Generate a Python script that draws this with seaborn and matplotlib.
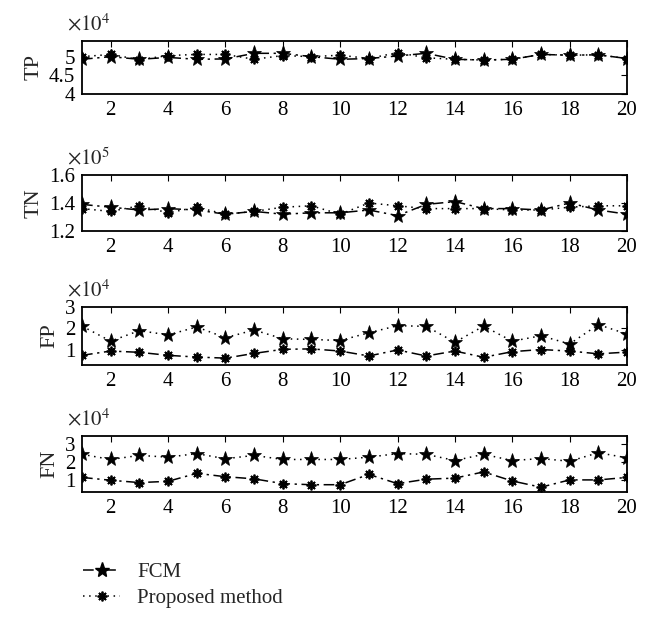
import numpy as np
import matplotlib
matplotlib.use("Agg")
import matplotlib.pyplot as plt
import seaborn as sns

sns.set_style("white")
plt.rcParams['font.family'] = ['Liberation Serif', 'DejaVu Sans']
plt.rcParams['mathtext.fontset'] = 'stix'

runs = np.arange(1, 21)

# values in units of the panel's multiplier (x10^4 or x10^5)
tp_fcm = [4.93, 5.00, 4.93, 4.98, 4.93, 4.94, 5.09, 5.09, 5.00, 4.93,
          4.95, 5.02, 5.09, 4.93, 4.91, 4.93, 5.06, 5.04, 5.05, 4.95]
tp_prop = [5.00, 5.06, 4.92, 5.03, 5.06, 5.06, 4.93, 5.03, 5.00, 5.04,
           4.95, 5.11, 4.97, 4.93, 4.91, 4.93, 5.06, 5.04, 5.05, 4.95]

tn_fcm = [1.39, 1.37, 1.35, 1.36, 1.35, 1.32, 1.34, 1.32, 1.33, 1.33,
          1.35, 1.31, 1.39, 1.41, 1.36, 1.36, 1.35, 1.40, 1.35, 1.32]
tn_prop = [1.36, 1.34, 1.38, 1.33, 1.37, 1.32, 1.34, 1.37, 1.38, 1.32,
           1.40, 1.38, 1.36, 1.36, 1.36, 1.35, 1.35, 1.37, 1.38, 1.38]

fp_star = [2.11, 1.41, 1.90, 1.70, 2.07, 1.57, 1.93, 1.52, 1.49, 1.44,
           1.80, 2.13, 2.10, 1.36, 2.11, 1.41, 1.66, 1.28, 2.18, 1.74]
fp_ast = [0.75, 0.95, 0.89, 0.75, 0.67, 0.62, 0.84, 1.03, 1.05, 0.95,
          0.72, 1.00, 0.72, 0.95, 0.66, 0.92, 1.02, 0.95, 0.82, 0.90]

fn_star = [2.42, 2.13, 2.36, 2.26, 2.46, 2.17, 2.36, 2.13, 2.13, 2.13,
           2.26, 2.46, 2.42, 2.07, 2.42, 2.07, 2.18, 2.03, 2.51, 2.22]
fn_ast = [1.12, 0.96, 0.83, 0.90, 1.35, 1.16, 1.04, 0.77, 0.71, 0.71,
          1.29, 0.77, 1.02, 1.08, 1.43, 0.92, 0.57, 0.98, 0.98, 1.12]

panel_names = ['TP', 'TN', 'FP', 'FN']
exponents = [4, 5, 4, 4]
ylims = [(4, 5.42), (1.2, 1.6), (0.3, 3), (0.3, 3.45)]
yticks = [[4, 4.5, 5], [1.2, 1.4, 1.6], [1, 2, 3], [1, 2, 3]]
yticklabels = [['4', '4.5', '5'], ['1.2', '1.4', '1.6'], ['1', '2', '3'], ['1', '2', '3']]
star_data = [tp_fcm, tn_fcm, fp_star, fn_star]
ast_data = [tp_prop, tn_prop, fp_ast, fn_ast]
# line styles as they appear in each panel (star series, asterisk series)
star_ls = ['-.', '-.', ':', ':']
ast_ls = [':', ':', '-.', '-.']

# axes boxes in pixels: left, top, right, bottom
boxes = [(82, 41, 627, 94), (82, 175, 627, 231), (82, 307, 627, 365), (82, 436, 627, 492)]

W, H = 650, 620
fig = plt.figure(figsize=(W / 100, H / 100), dpi=100)

DASHDOT = (0, (7, 3, 1.5, 3))
DOT = (0, (1, 3))
ASTER = (8, 2, 0)


def to_ls(s):
    return DASHDOT if s == '-.' else DOT


for i, name in enumerate(panel_names):
    l, t, r, b = boxes[i]
    ax = fig.add_axes([l / W, 1 - b / H, (r - l) / W, (b - t) / H])
    sns.lineplot(x=runs, y=star_data[i], ax=ax, color='k', marker='*',
                 markersize=11, markeredgewidth=0.5, markeredgecolor='k',
                 markerfacecolor='k', linewidth=1.1,
                 linestyle=to_ls(star_ls[i]), label='FCM', legend=False)
    sns.lineplot(x=runs, y=ast_data[i], ax=ax, color='k', marker=ASTER,
                 markersize=7, markeredgewidth=1.3, markeredgecolor='k',
                 linewidth=1.1,
                 linestyle=to_ls(ast_ls[i]), label='Proposed method', legend=False)
    ax.set_xlim(1, 20)
    ax.set_ylim(*ylims[i])
    ax.set_xticks(range(2, 21, 2))
    ax.set_yticks(yticks[i])
    ax.set_yticklabels(yticklabels[i])
    ax.tick_params(direction='in', top=True, right=True, length=4, width=0.8,
                   labelsize=15, colors='k', pad=5)
    for sp in ax.spines.values():
        sp.set_visible(True)
        sp.set_color('k')
        sp.set_linewidth(1.3)
    ax.set_ylabel(name, fontsize=16, labelpad=4)
    ax.annotate(r'$\times10^{%d}$' % exponents[i], xy=(0, 1), xycoords='axes fraction',
                xytext=(-11, 4), textcoords='offset points',
                ha='left', va='bottom', fontsize=15)

# legend below the panels, built from the first panel's lines
handles = fig.axes[0].get_lines()[:2]
lh = [plt.Line2D([], [], color='k', marker='*', markersize=11, linewidth=1.1,
                 linestyle=DASHDOT),
      plt.Line2D([], [], color='k', marker=ASTER, markersize=7, markeredgewidth=1.3,
                 linewidth=1.1, linestyle=DOT)]
fig.legend(lh, [h.get_label() for h in handles], loc='upper left',
           bbox_to_anchor=(64 / W, 1 - 544 / H), frameon=False, fontsize=15,
           handlelength=1.8, handletextpad=0.8, labelspacing=0.3)

fig.savefig('out.png', dpi=100)
